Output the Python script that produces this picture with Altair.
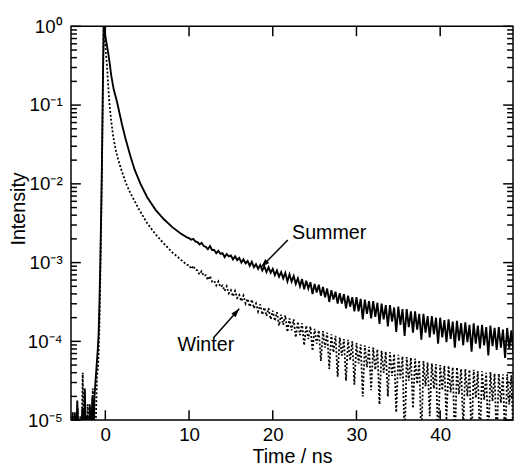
import altair as alt
import pandas as pd

# ---------------- data ----------------
X_DOMAIN = [-4.1, 48.7]
Y_DOMAIN = [1e-5, 1.0]
X_TICKS = [0, 10, 20, 30, 40]
Y_DECADES = [1e-5, 1e-4, 1e-3, 1e-2, 1e-1, 1.0]

# early part (t in ns, log10 intensity)
SUMMER_T_EARLY = [-4.1, -3.95, -3.8, -3.65, -3.5, -3.35, -3.2, -3.05, -2.9, -2.75, -2.6, -2.45,
                  -2.3, -2.15, -2.0, -1.85, -1.7, -1.55, -1.4, -1.3, -1.1, -0.9, -0.8, -0.7,
                  -0.6, -0.5, -0.4, -0.3, -0.2, 0.0, 0.2, 0.35, 0.5, 0.7, 1.0, 1.4, 2.0, 2.4,
                  3.0, 3.5, 4.2, 5.0, 6.0, 7.0, 8.0, 9.0, 9.75]
SUMMER_LOG_EARLY = [-5.3, -4.95, -5.3, -4.9, -5.3, -4.75, -5.3, -5.0, -5.3, -4.85, -5.3, -4.6,
                    -5.3, -4.95, -5.3, -4.8, -5.3, -4.7, -5.3, -4.7, -4.4, -4.1, -3.9, -3.5,
                    -3.0, -2.4, -1.7, -0.8, 0.0, -0.12, -0.25, -0.34, -0.45, -0.62, -0.8, -0.96,
                    -1.25, -1.42, -1.65, -1.82, -2.0, -2.17, -2.33, -2.45, -2.55, -2.63, -2.68]

WINTER_T_EARLY = [-4.05, -3.9, -3.75, -3.6, -3.45, -3.3, -3.15, -3.0, -2.85, -2.7, -2.55, -2.4,
                  -2.25, -2.1, -1.95, -1.8, -1.65, -1.5, -1.35, -1.2, -1.0, -0.85, -0.7, -0.6,
                  -0.5, -0.4, -0.3, -0.2, 0.0, 0.2, 0.47, 0.7, 0.94, 1.2, 1.5, 2.0, 2.5, 3.0,
                  3.5, 4.0, 5.0, 6.0, 7.0, 8.0, 9.0, 9.75]
WINTER_LOG_EARLY = [-5.3, -4.9, -5.3, -5.0, -5.3, -4.85, -5.3, -4.95, -5.3, -4.4, -5.3, -4.9,
                    -5.3, -4.8, -5.3, -5.0, -5.3, -4.6, -5.3, -5.3, -4.45, -4.3, -3.8, -3.2,
                    -2.5, -1.8, -0.9, 0.0, -0.25, -0.5, -0.96, -1.2, -1.4, -1.55, -1.68, -1.85,
                    -2.0, -2.12, -2.22, -2.32, -2.5, -2.64, -2.76, -2.87, -2.96, -3.03]

# noisy tail, channels every 0.25 ns from 10 to 48.75 ns
T_NOISY = [round(10 + 0.25 * i, 2) for i in range(156)]
SUMMER_LOG_NOISY = [
    -2.69, -2.71, -2.70, -2.73, -2.74, -2.77, -2.75, -2.79, -2.80, -2.83, -2.79, -2.84,
    -2.84, -2.88, -2.85, -2.89, -2.88, -2.93, -2.89, -2.92, -2.91, -2.96, -2.92, -2.97,
    -2.94, -3.00, -2.96, -3.01, -2.98, -3.04, -2.99, -3.06, -3.02, -3.08, -3.03, -3.10,
    -3.05, -3.12, -3.06, -3.13, -3.08, -3.16, -3.10, -3.18, -3.12, -3.20, -3.13, -3.24,
    -3.15, -3.24, -3.17, -3.27, -3.20, -3.30, -3.21, -3.34, -3.23, -3.33, -3.25, -3.40,
    -3.27, -3.38, -3.28, -3.42, -3.31, -3.44, -3.33, -3.50, -3.35, -3.47, -3.37, -3.52,
    -3.39, -3.52, -3.40, -3.58, -3.42, -3.56, -3.44, -3.62,
    -3.44, -3.62, -3.46, -3.72, -3.47, -3.65, -3.49, -3.71, -3.49, -3.69, -3.51, -3.78,
    -3.52, -3.72, -3.54, -3.81, -3.54, -3.75, -3.57, -3.88, -3.56, -3.79, -3.59, -3.93,
    -3.59, -3.82, -3.62, -3.89, -3.62, -3.85, -3.65, -3.98, -3.65, -3.89, -3.68, -3.95,
    -3.68, -3.91, -3.70, -4.03, -3.70, -3.95, -3.73, -4.01, -3.72, -3.97, -3.75, -4.08,
    -3.74, -3.99, -3.77, -4.05, -3.76, -4.01, -3.79, -4.13, -3.77, -4.03, -3.80, -4.09,
    -3.79, -4.05, -3.82, -4.18, -3.80, -4.06, -3.83, -4.11, -3.82, -4.08, -3.85, -4.21,
    -3.83, -4.09, -3.86, -4.15,
]
WINTER_LOG_NOISY = [
    -3.03, -3.08, -3.04, -3.09, -3.10, -3.15, -3.11, -3.17, -3.16, -3.22, -3.17, -3.24,
    -3.23, -3.29, -3.24, -3.31, -3.29, -3.36, -3.30, -3.39, -3.35, -3.43, -3.36, -3.45,
    -3.41, -3.49, -3.42, -3.52, -3.46, -3.56, -3.47, -3.58, -3.52, -3.62, -3.53, -3.66,
    -3.57, -3.68, -3.58, -3.72, -3.61, -3.74, -3.63, -3.80, -3.66, -3.79, -3.67, -3.88,
    -3.71, -3.86, -3.72, -3.95, -3.75, -3.92, -3.77, -4.05, -3.80, -3.97, -3.81, -4.12,
    -3.84, -4.03, -3.86, -4.25, -3.87, -4.08, -3.89, -4.35, -3.91, -4.14, -3.93, -4.45,
    -3.95, -4.18, -3.97, -4.50, -3.98, -4.24, -4.00, -4.55, -4.02, -4.28, -4.04, -4.70,
    -4.05, -4.33, -4.07, -4.62, -4.08, -4.36, -4.10, -4.80, -4.12, -4.40, -4.13, -4.70,
    -4.14, -4.44, -4.16, -4.90, -4.17, -4.47, -4.19, -5.30, -4.20, -4.50, -4.21, -4.85,
    -4.22, -4.54, -4.24, -5.30, -4.25, -4.57, -4.27, -4.95, -4.28, -4.60, -4.29, -5.30,
    -4.30, -4.62, -4.31, -5.00, -4.31, -4.65, -4.33, -5.30, -4.33, -4.67, -4.35, -5.10,
    -4.35, -4.70, -4.36, -5.30, -4.36, -4.72, -4.38, -5.30, -4.38, -4.74, -4.40, -5.30,
    -4.39, -4.76, -4.41, -5.30, -4.41, -4.78, -4.42, -5.30, -4.42, -4.80, -4.43, -5.30,
]

# annotations: text anchor and arrow (tail -> tip), in data coordinates
LABELS = ["Summer", "Winter"]
LABEL_T = [22.3, 15.4]
LABEL_I = [2.4e-3, 8.9e-5]
LABEL_ALIGN = ["left", "right"]
ARROW_T1 = [21.8, 12.9]
ARROW_I1 = [1.94e-3, 1.1e-4]
ARROW_T2 = [18.6, 16.0]
ARROW_I2 = [8.7e-4, 2.6e-4]
ARROW_ANGLE = [224, 41]

# ---------------- build chart ----------------
W, H = 449, 400
FONT = "Liberation Sans"

summer_df = pd.DataFrame({
    "t": SUMMER_T_EARLY + T_NOISY,
    "I": [10 ** v for v in SUMMER_LOG_EARLY + SUMMER_LOG_NOISY],
})
winter_df = pd.DataFrame({
    "t": WINTER_T_EARLY + T_NOISY,
    "I": [10 ** v for v in WINTER_LOG_EARLY + WINTER_LOG_NOISY],
})

xscale = alt.Scale(domain=X_DOMAIN, nice=False, zero=False)
yscale = alt.Scale(type="log", domain=Y_DOMAIN, nice=False)

label_expr = (
    "(round(log(datum.value)/LN10)==0)?'10\u2070':"
    "(round(log(datum.value)/LN10)==-1)?'10\u207b\u00b9':"
    "(round(log(datum.value)/LN10)==-2)?'10\u207b\u00b2':"
    "(round(log(datum.value)/LN10)==-3)?'10\u207b\u00b3':"
    "(round(log(datum.value)/LN10)==-4)?'10\u207b\u2074':'10\u207b\u2075'"
)

x_axis = alt.Axis(values=X_TICKS, title="Time / ns", grid=False, ticks=False, tickSize=0,
                  domain=False, labelFlush=False, labelOverlap=False, labelPadding=6,
                  titlePadding=2, labelFontSize=19, titleFontSize=20)
y_axis = alt.Axis(values=Y_DECADES, title="Intensity", grid=False, ticks=False, tickSize=0,
                  domain=False, labelFlush=False, labelOverlap=False, labelPadding=9,
                  labelExpr=label_expr, titleX=-43, titleY=185, titleAngle=270,
                  titleBaseline="bottom", titleAlign="center",
                  labelFontSize=19, titleFontSize=20)


def X(field):
    return alt.X(field, type="quantitative", scale=xscale, axis=x_axis)


def Y(field):
    return alt.Y(field, type="quantitative", scale=yscale, axis=y_axis)


summer = alt.Chart(summer_df).mark_line(color="black", strokeWidth=1.9, clip=True).encode(
    x=X("t"), y=Y("I"))
winter = alt.Chart(winter_df).mark_line(color="black", strokeWidth=1.8, strokeDash=[2, 2],
                                        clip=True).encode(x=X("t"), y=Y("I"))

minor_vals = [m * 10.0 ** k for k in range(-5, 0) for m in range(2, 10)]
ymaj = pd.DataFrame({"v": Y_DECADES})
ymin = pd.DataFrame({"v": minor_vals})
xmaj = pd.DataFrame({"v": X_TICKS})


def yrule(df, x0, x1):
    return alt.Chart(df).mark_rule(color="black", strokeWidth=1.5).encode(
        y=Y("v"), x=alt.value(x0), x2=alt.value(x1))


def xrule(df, y0, y1):
    return alt.Chart(df).mark_rule(color="black", strokeWidth=1.5).encode(
        x=X("v"), y=alt.value(y0), y2=alt.value(y1))


ticks = [
    yrule(ymaj, 0, 10), yrule(ymin, 0, 6), yrule(ymaj, W, W - 10), yrule(ymin, W, W - 6),
    xrule(xmaj, H, H - 10), xrule(xmaj, 0, 10),
]

arrow_df = pd.DataFrame({"t1": ARROW_T1, "i1": ARROW_I1, "t2": ARROW_T2, "i2": ARROW_I2,
                         "ang": ARROW_ANGLE})
arrows = alt.Chart(arrow_df).mark_rule(color="black", strokeWidth=1.5).encode(
    x=X("t1"), y=Y("i1"), x2="t2:Q", y2="i2:Q")
heads = alt.Chart(arrow_df).mark_point(
    shape="M0,0 L-0.75,2.4 L0.75,2.4 Z", filled=True, color="black", size=56, opacity=1
).encode(x=X("t2"), y=Y("i2"), angle=alt.Angle("ang:Q", scale=None))

label_df = pd.DataFrame({"lab": LABELS, "t": LABEL_T, "I": LABEL_I, "al": LABEL_ALIGN})
texts = []
for al in ["left", "right"]:
    texts.append(alt.Chart(label_df[label_df.al == al]).mark_text(
        align=al, baseline="middle", fontSize=20, font=FONT, color="black").encode(
        x=X("t"), y=Y("I"), text="lab:N"))

chart = alt.layer(summer, winter, *ticks, arrows, heads, *texts).properties(
    width=W, height=H,
    autosize=alt.AutoSizeParams(type="none"),
    padding={"left": 64, "top": 15, "right": 1, "bottom": 43},
).configure_view(stroke="black", strokeWidth=1.5).configure_axis(
    labelFont=FONT, titleFont=FONT, labelColor="black", titleColor="black",
    titleFontWeight="normal")

chart.save("out.html", embed_options={"renderer": "svg", "actions": False})
